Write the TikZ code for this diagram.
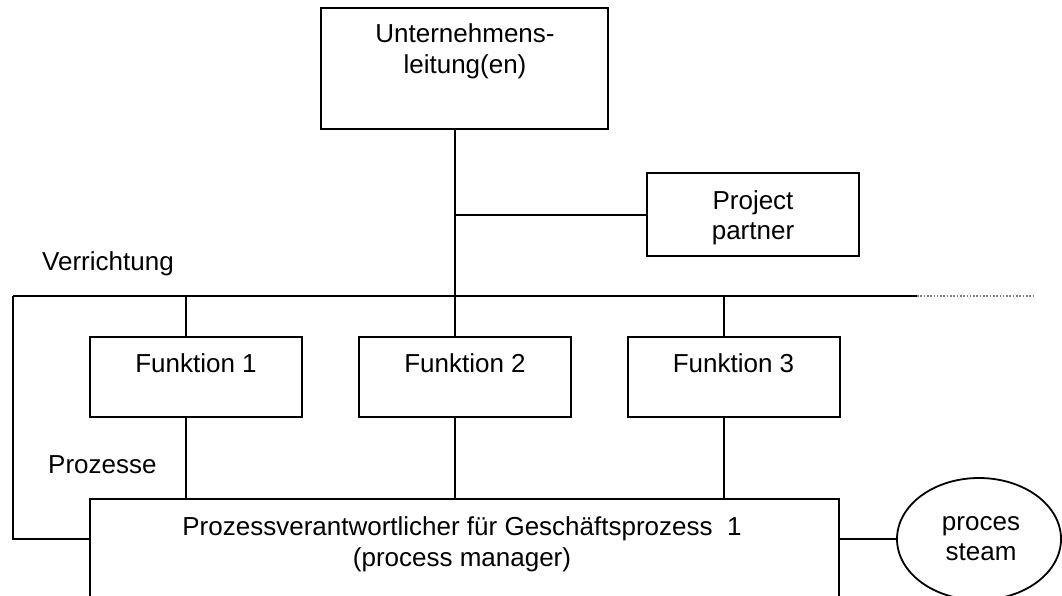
\documentclass[tikz,border=0pt]{standalone}
\usepackage{fontspec}
\setmainfont{Liberation Sans}
\usetikzlibrary{shapes.geometric}
\begin{document}
\begin{tikzpicture}[x=1pt,y=-1pt,
  box/.style={draw, line width=1.8pt, inner sep=0pt, outer sep=0pt, anchor=north west},
  fbox/.style={box, minimum width=212pt, minimum height=80pt},
  lbl/.style={anchor=base, inner sep=0pt, font=\fontsize{26}{31}\selectfont},
  lnk/.style={line width=1.8pt},
  bus/.style={line width=2.4pt},
  more/.style={gray, line width=2pt, dash pattern=on 1.6pt off 1.7pt}]
\useasboundingbox (0,0) rectangle (1062,596);
\fill[white] (0,0) rectangle (1062,596);
\clip (0,0) rectangle (1062,596);

% boxes
\node[box, minimum width=287pt, minimum height=121pt] (lead) at (321,8) {};
\node[box, minimum width=212pt, minimum height=83pt] (partner) at (647,173) {};
\node[fbox] (f1) at (90,337) {};
\node[fbox] (f2) at (359,337) {};
\node[fbox] (f3) at (628,337) {};
\node[box, minimum width=749pt, minimum height=130pt] (proc) at (90,499) {};
\node[draw, ellipse, line width=1.8pt, minimum width=164pt, minimum height=122pt, inner sep=0pt] (team) at (979,539) {};

% texts
\node[lbl] (lead1) at (465,43) {Unternehmens-};
\node[lbl] (lead2) at (465,74) {leitung(en)};
\node[lbl] (pp1) at (753,209) {Project};
\node[lbl] (pp2) at (753,239) {partner};
\node[lbl] (ft1) at (196,372) {Funktion 1};
\node[lbl] (ft2) at (465,372) {Funktion 2};
\node[lbl] (ft3) at (733.5,372) {Funktion 3};
\node[lbl, anchor=base west] (verr) at (42,270) {Verrichtung};
\node[lbl, anchor=base west] (proz) at (48,473) {Prozesse};
\node[lbl] (pm1) at (462,535) {Prozessverantwortlicher für Geschäftsprozess \ 1};
\node[lbl] (pm2) at (462,566) {(process manager)};
\node[lbl] (pt1) at (981,530) {proces};
\node[lbl] (pt2) at (981,560) {steam};

% junction points
\coordinate (busL) at (13,296);
\coordinate (busR) at (917,296);
\coordinate (busE) at (1033,296);
\coordinate (j0) at (455,296);
\coordinate (jp) at (455,215);
\coordinate (a1) at (186,296);
\coordinate (a2) at (455,296);
\coordinate (a3) at (724,296);
\coordinate (k) at (13,539);

% connectors
\draw[lnk] (lead.south -| j0) -- (j0);
\draw[lnk] (jp) -- (jp -| partner.west);
\draw[bus] (busL) -- (busR);
\draw[more] (busR) -- (busE);
\draw[lnk] (proc.west |- k) -- (k) -- (busL);
\foreach \a/\f in {a1/f1, a2/f2, a3/f3} {
  \draw[lnk] (\a) -- (\f.north -| \a);
  \draw[lnk] (\f.south -| \a) -- (proc.north -| \a);
}
\draw[lnk] (proc.east |- team) -- (team.west);
\end{tikzpicture}
\end{document}
